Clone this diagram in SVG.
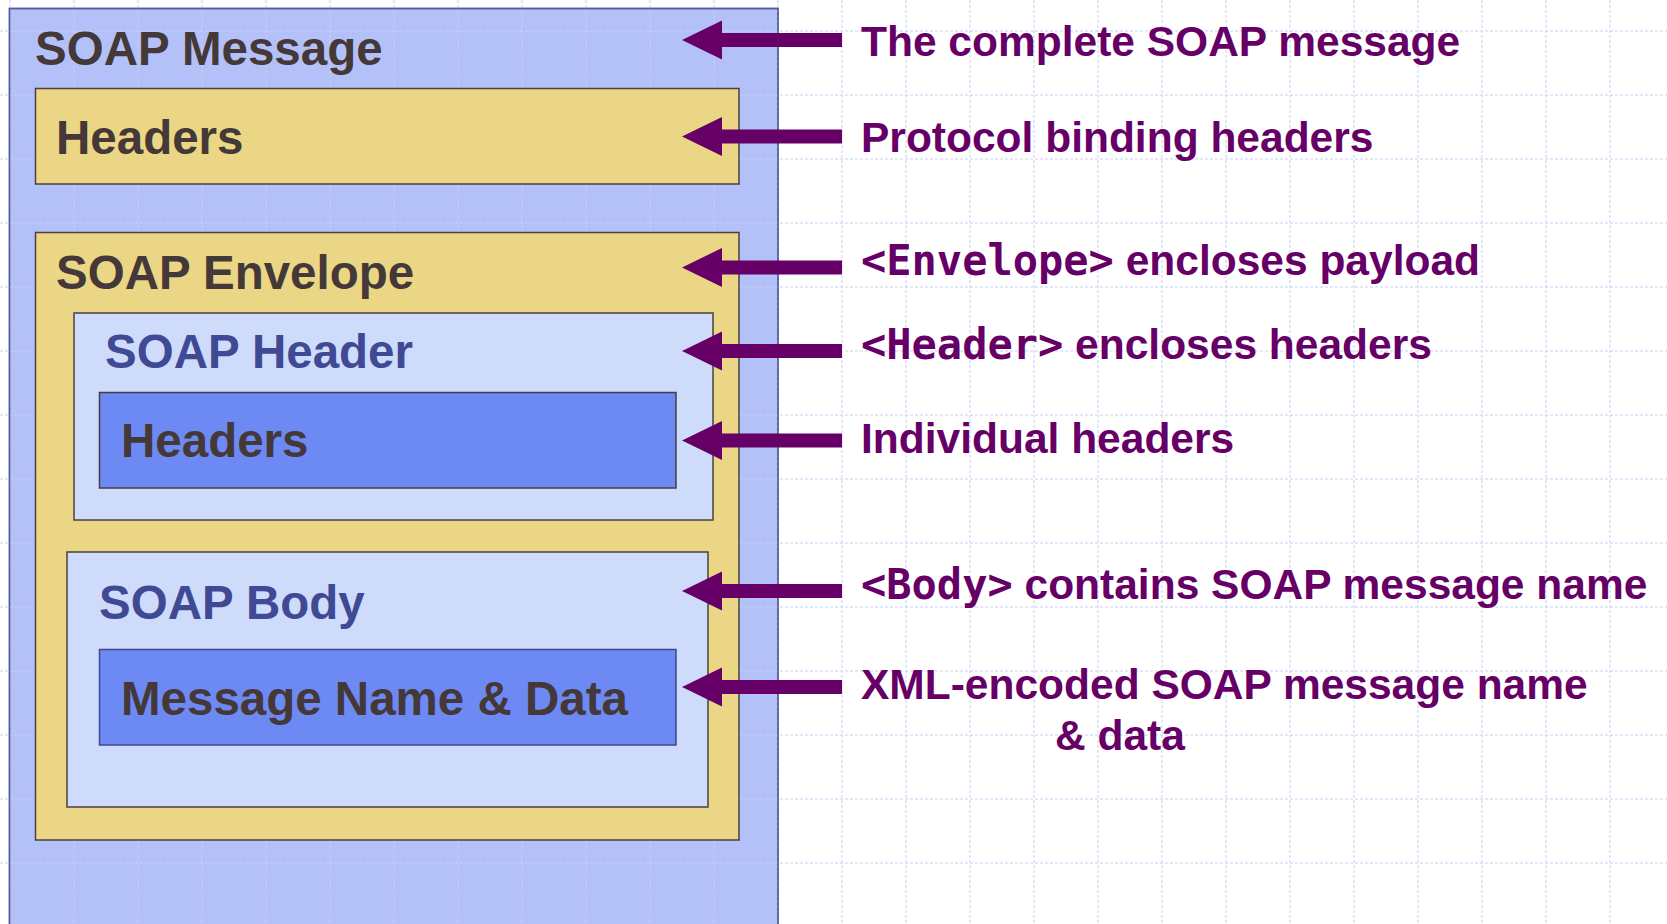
<svg xmlns="http://www.w3.org/2000/svg" xmlns:xlink="http://www.w3.org/1999/xlink" width="1667" height="924" viewBox="0 0 1667 924">
<style>
.grid line{stroke:#c5d1f6;stroke-width:1;stroke-dasharray:3 2}
.lbl{font-family:"Liberation Sans",Arial,sans-serif;font-weight:bold;font-size:47.5px;fill:#453838}
.lblb{fill:#404a94}
.note{font-family:"Liberation Sans",Arial,sans-serif;font-weight:bold;font-size:42.5px;fill:#660066}
.mono{font-family:"DejaVu Sans Mono","Liberation Mono",monospace;font-weight:bold;font-size:42px}
.arrow{fill:#660066}
</style>
<defs>
<path id="arr" d="M682,0 L722,-19.5 L722,-7 L842,-7 L842,7 L722,7 L722,19.5 Z"/>
</defs>
<rect x="0" y="0" width="1667" height="924" fill="#ffffff"/>
<g id="soap-message">
<rect x="9.5" y="8.5" width="768.5" height="930" fill="#b4c1f8" stroke="#555d9e" stroke-width="1.5"/>
</g>
<g class="grid">
<line x1="10" y1="0" x2="10" y2="924"/><line x1="74" y1="0" x2="74" y2="924"/><line x1="138" y1="0" x2="138" y2="924"/><line x1="202" y1="0" x2="202" y2="924"/><line x1="266" y1="0" x2="266" y2="924"/><line x1="330" y1="0" x2="330" y2="924"/><line x1="394" y1="0" x2="394" y2="924"/><line x1="458" y1="0" x2="458" y2="924"/><line x1="522" y1="0" x2="522" y2="924"/><line x1="586" y1="0" x2="586" y2="924"/><line x1="650" y1="0" x2="650" y2="924"/><line x1="714" y1="0" x2="714" y2="924"/><line x1="842" y1="0" x2="842" y2="924"/><line x1="906" y1="0" x2="906" y2="924"/><line x1="970" y1="0" x2="970" y2="924"/><line x1="1034" y1="0" x2="1034" y2="924"/><line x1="1098" y1="0" x2="1098" y2="924"/><line x1="1162" y1="0" x2="1162" y2="924"/><line x1="1226" y1="0" x2="1226" y2="924"/><line x1="1290" y1="0" x2="1290" y2="924"/><line x1="1354" y1="0" x2="1354" y2="924"/><line x1="1418" y1="0" x2="1418" y2="924"/><line x1="1482" y1="0" x2="1482" y2="924"/><line x1="1546" y1="0" x2="1546" y2="924"/><line x1="1610" y1="0" x2="1610" y2="924"/><line x1="778" y1="0" x2="778" y2="924"/>
<line x1="0" y1="31" x2="1667" y2="31"/><line x1="0" y1="95" x2="1667" y2="95"/><line x1="0" y1="159" x2="1667" y2="159"/><line x1="0" y1="223" x2="1667" y2="223"/><line x1="0" y1="287" x2="1667" y2="287"/><line x1="0" y1="351" x2="1667" y2="351"/><line x1="0" y1="415" x2="1667" y2="415"/><line x1="0" y1="479" x2="1667" y2="479"/><line x1="0" y1="543" x2="1667" y2="543"/><line x1="0" y1="607" x2="1667" y2="607"/><line x1="0" y1="671" x2="1667" y2="671"/><line x1="0" y1="735" x2="1667" y2="735"/><line x1="0" y1="799" x2="1667" y2="799"/><line x1="0" y1="863" x2="1667" y2="863"/>
</g>
<rect x="9.5" y="8.5" width="768.5" height="930" fill="none" stroke="#555d9e" stroke-width="1.5"/>
<text class="lbl" x="35" y="65">SOAP Message</text>
<g id="protocol-headers">
<rect x="35.5" y="88.5" width="703.5" height="95.5" fill="#ead684" stroke="#4a4040" stroke-width="1.5"/>
<text class="lbl" x="56" y="154">Headers</text>
</g>
<g id="soap-envelope">
<rect x="35.5" y="232.5" width="703.5" height="607.5" fill="#ead684" stroke="#4a4040" stroke-width="1.5"/>
<text class="lbl" x="56" y="289">SOAP Envelope</text>
</g>
<g id="soap-header">
<rect x="74" y="313" width="639" height="207" fill="#cfdbfb" stroke="#4a4040" stroke-width="1.5"/>
<text class="lbl lblb" x="105" y="368">SOAP Header</text>
</g>
<g id="header-items">
<rect x="99.5" y="392.5" width="576.5" height="95.5" fill="#6d89f4" stroke="#404040" stroke-width="1.5"/>
<text class="lbl" x="121" y="457">Headers</text>
</g>
<g id="soap-body">
<rect x="67" y="552" width="641" height="255" fill="#cfdbfb" stroke="#4a4040" stroke-width="1.5"/>
<text class="lbl lblb" x="99" y="619">SOAP Body</text>
</g>
<g id="message-data">
<rect x="99.5" y="649.5" width="576.5" height="95.5" fill="#6d89f4" stroke="#3e4a8e" stroke-width="1.5"/>
<text class="lbl" x="121" y="715">Message Name &amp; Data</text>
</g>
<g id="connectors" class="arrow">
<use xlink:href="#arr" y="40"/>
<use xlink:href="#arr" y="136.5"/>
<use xlink:href="#arr" y="267.5"/>
<use xlink:href="#arr" y="351"/>
<use xlink:href="#arr" y="440.5"/>
<use xlink:href="#arr" y="591"/>
<use xlink:href="#arr" y="687"/>
</g>
<g id="notes">
<text class="note" x="861" y="56">The complete SOAP message</text>
<text class="note" x="861" y="152">Protocol binding headers</text>
<text class="note" x="861" y="275"><tspan class="mono">&lt;Envelope&gt;</tspan> encloses payload</text>
<text class="note" x="861" y="359"><tspan class="mono">&lt;Header&gt;</tspan> encloses headers</text>
<text class="note" x="861" y="453">Individual headers</text>
<text class="note" x="861" y="599"><tspan class="mono">&lt;Body&gt;</tspan> contains SOAP message name</text>
<text class="note" x="861" y="699">XML-encoded SOAP message name</text>
<text class="note" x="1055" y="750">&amp; data</text>
</g>
</svg>
